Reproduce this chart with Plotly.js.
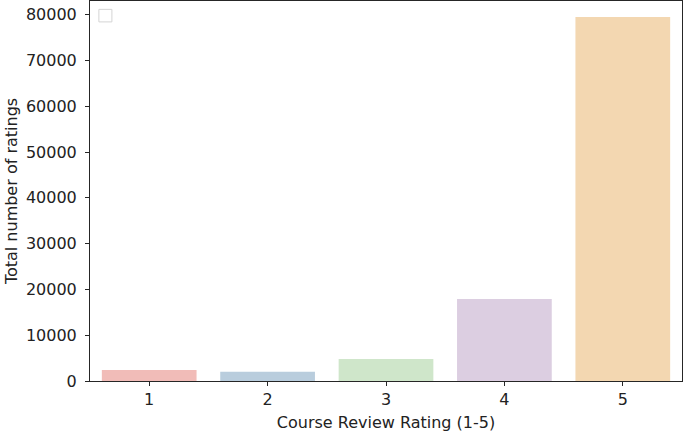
<!DOCTYPE html>
<html>
<head>
<meta charset="utf-8">
<script src="https://cdn.plot.ly/plotly-3.0.1.min.js"></script>
<style>
  html, body { margin: 0; padding: 0; background: #fff; }
  #chart { width: 685px; height: 432px; }
</style>
</head>
<body>
<div id="chart"></div>
<script>
// ratings 1-5 and how many reviews each got
var ratings = ['1', '2', '3', '4', '5'];
var counts = [2400, 2000, 4800, 17900, 79500];
var barColors = ['#f1bcb8', '#b9cddd', '#cfe6ca', '#dccee1', '#f3d7b1'];
var yTicks = [0, 10000, 20000, 30000, 40000, 50000, 60000, 70000, 80000];

var trace = {
  x: ratings,
  y: counts,
  type: 'bar',
  width: 0.8,
  marker: { color: barColors, line: { width: 0 } },
  hoverinfo: 'x+y'
};

var axisFont = { family: 'DejaVu Sans', size: 16, color: '#222' };

var layout = {
  width: 685,
  height: 432,
  margin: { l: 90, r: 3, t: 1, b: 51 },
  paper_bgcolor: '#fff',
  plot_bgcolor: '#fff',
  showlegend: false,
  font: axisFont,
  xaxis: {
    type: 'category',
    range: [-0.5, 4.5],
    showline: true, mirror: true, linecolor: '#262626', linewidth: 1,
    ticks: 'outside', ticklen: 4, tickcolor: '#262626',
    ticklabelstandoff: 0,
    showgrid: false, zeroline: false,
    tickfont: axisFont,
    title: { text: 'Course Review Rating (1-5)', font: axisFont, standoff: 8 }
  },
  yaxis: {
    range: [0, 83000],
    tickvals: yTicks,
    ticktext: yTicks.map(String),
    showline: true, mirror: true, linecolor: '#262626', linewidth: 1,
    ticks: 'outside', ticklen: 4, tickcolor: '#262626',
    ticklabelstandoff: 5,
    showgrid: false, zeroline: false,
    tickfont: axisFont,
    title: { text: 'Total number of ratings', font: axisFont, standoff: 4 }
  },
  // empty legend box left over from the original figure
  shapes: [{
    type: 'rect', xref: 'paper', yref: 'paper',
    x0: 0.015, x1: 0.037, y0: 0.945, y1: 0.978,
    line: { color: '#d4d4d4', width: 1 }, fillcolor: '#fff'
  }]
};

Plotly.newPlot('chart', [trace], layout, { displayModeBar: false, staticPlot: true });
</script>
</body>
</html>
